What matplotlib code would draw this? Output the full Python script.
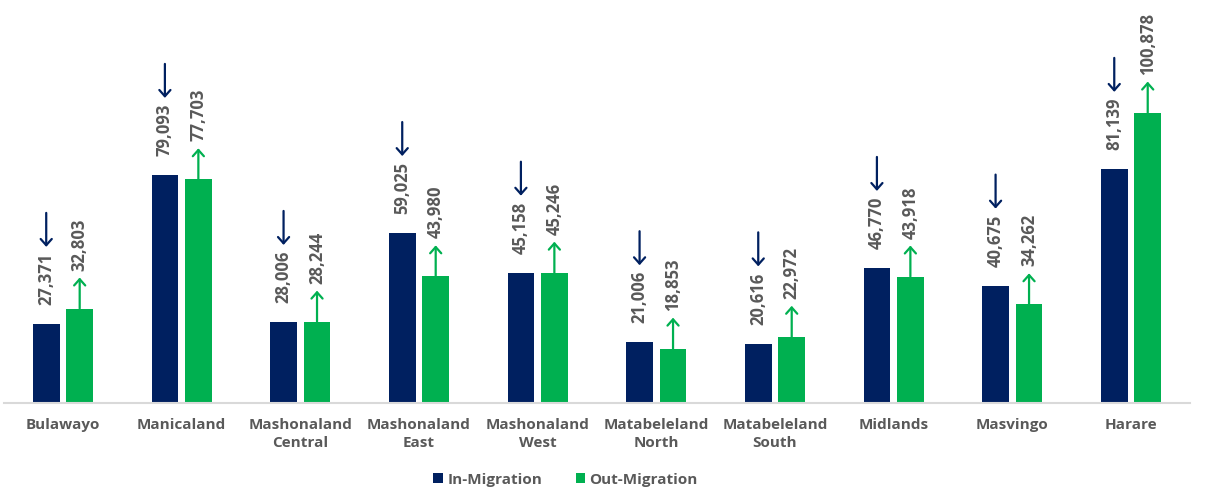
import matplotlib
matplotlib.use("Agg")
import matplotlib.pyplot as plt
import numpy as np
from matplotlib.patches import Patch

provinces = ["Bulawayo", "Manicaland", "Mashonaland\nCentral", "Mashonaland\nEast",
             "Mashonaland\nWest", "Matabeleland\nNorth", "Matabeleland\nSouth",
             "Midlands", "Masvingo", "Harare"]
in_migration = [27371, 79093, 28006, 59025, 45158, 21006, 20616, 46770, 40675, 81139]
out_migration = [32803, 77703, 28244, 43980, 45246, 18853, 22972, 43918, 34262, 100878]

NAVY = "#002060"
GREEN = "#00B050"
GREY = "#595959"
FONT = "Open Sans"

fig = plt.figure(figsize=(12.06, 4.95), dpi=100)
ax = fig.add_axes([0.003, 0.186, 0.984, 0.814])

x = np.arange(len(provinces))
w = 0.225
off = 0.141
ax.bar(x - off, in_migration, w, color=NAVY, zorder=2)
ax.bar(x + off, out_migration, w, color=GREEN, zorder=2)

ax.set_xlim(-0.5, len(provinces) - 0.5)
ax.set_ylim(0, 140000)
ax.set_yticks([])
for s in ["top", "right", "left"]:
    ax.spines[s].set_visible(False)
ax.spines["bottom"].set_color("#D9D9D9")
ax.spines["bottom"].set_linewidth(1.5)
ax.set_xticks(x)
ax.set_xticklabels(provinces, fontsize=11, fontweight="bold", color=GREY,
                   family=FONT, linespacing=1.3)
ax.tick_params(axis="x", length=0, pad=11)

fig.canvas.draw()
renderer = fig.canvas.get_renderer()
px = (ax.transData.transform((0, 1000))[1] - ax.transData.transform((0, 0))[1]) / 1000.0
def up(pixels):
    return pixels / px

label_kw = dict(rotation=90, ha="center", va="bottom", fontsize=12,
                fontweight="bold", color=GREY, family=FONT)
arrow_kw = dict(arrowstyle="->,head_length=0.45,head_width=0.4",
                lw=1.6, shrinkA=0, shrinkB=0)

# In-migration: value label above the bar, downward arrow above the label
for xi, v in zip(x - off, in_migration):
    t = ax.text(xi, v + up(19), f"{v:,}", **label_kw)
    bb = t.get_window_extent(renderer)
    top = ax.transData.inverted().transform((0, bb.y1))[1]
    head = top + up(6)
    tail = head + up(34)
    ax.annotate("", xy=(xi, head), xytext=(xi, tail),
                arrowprops=dict(color=NAVY, **arrow_kw))

# Out-migration: upward arrow from the bar top, value label above the arrow
for xi, v in zip(x + off, out_migration):
    ax.annotate("", xy=(xi, v + up(31)), xytext=(xi, v),
                arrowprops=dict(color=GREEN, **arrow_kw))
    ax.text(xi, v + up(38), f"{v:,}", **label_kw)

handles = [Patch(facecolor=NAVY, label="In-Migration"),
           Patch(facecolor=GREEN, label="Out-Migration")]
leg = fig.legend(handles=handles, loc="center", bbox_to_anchor=(0.469, 0.031),
                 ncol=2, frameon=False, handlelength=0.6, handleheight=0.6,
                 handletextpad=0.3, columnspacing=2.2,
                 prop=dict(family=FONT, weight="bold", size=11))
for t in leg.get_texts():
    t.set_color(GREY)

fig.savefig("out.png", dpi=100)
